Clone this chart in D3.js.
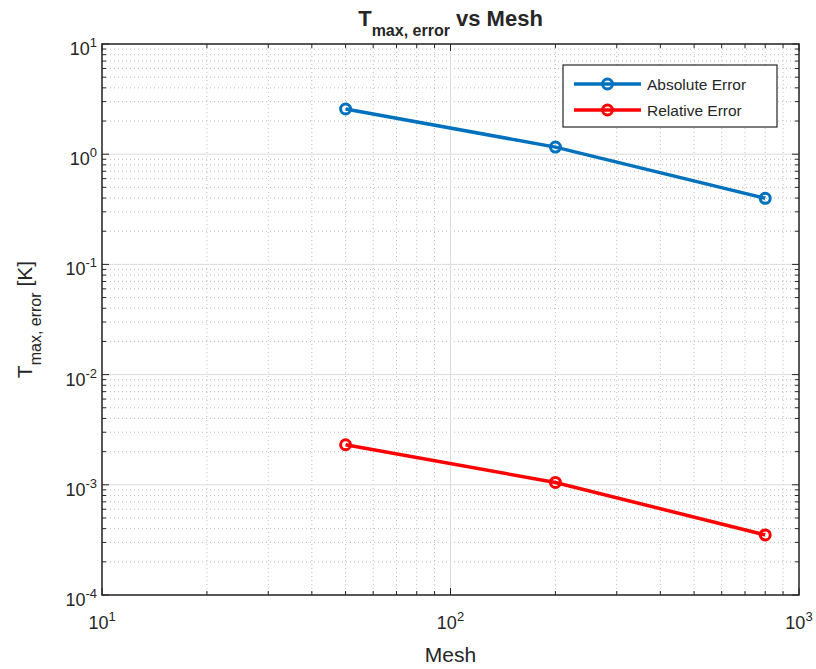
<!DOCTYPE html>
<html>
<head>
<meta charset="utf-8">
<script src="https://cdn.jsdelivr.net/npm/d3@7"></script>
<style>
  body { margin: 0; background: #fff; }
  text { font-family: "Liberation Sans", Arial, sans-serif; fill: #262626; }
</style>
</head>
<body>
<div id="chart"></div>
<script>
// values
var mesh = [50, 200, 800];
var absErr = [2.57, 1.16, 0.398];
var relErr = [0.00231, 0.00105, 0.000351];
var seriesNames = ["Absolute Error", "Relative Error"];
var seriesColors = ["#0072BD", "#FF0000"];
var xTicks = [10, 100, 1000];
var yTicks = [1e-4, 1e-3, 1e-2, 1e-1, 1, 10];

var W = 816, H = 669;
var margin = {top: 44, right: 17, bottom: 74, left: 102};
var w = W - margin.left - margin.right;
var h = H - margin.top - margin.bottom;
var axisColor = "#262626";

var svg = d3.select("#chart").append("svg")
    .attr("width", W)
    .attr("height", H);

var g = svg.append("g")
    .attr("transform", "translate(" + margin.left + "," + margin.top + ")");

var x = d3.scaleLog().domain([10, 1000]).range([0, w]);
var y = d3.scaleLog().domain([1e-4, 10]).range([h, 0]);

// minor values for grid and ticks
function minors(lo, hi) {
    var out = [];
    for (var p = lo; p < hi; p++) {
        for (var k = 2; k <= 9; k++) out.push(k * Math.pow(10, p));
    }
    return out;
}
var xMinor = minors(1, 3);
var yMinor = minors(-4, 1);

// grid
g.selectAll(".xminor").data(xMinor).enter().append("line")
    .attr("x1", d => x(d)).attr("x2", d => x(d))
    .attr("y1", 0).attr("y2", h)
    .attr("stroke", "#bdbdbd").attr("stroke-width", 1)
    .attr("stroke-dasharray", "1,3");
g.selectAll(".yminor").data(yMinor).enter().append("line")
    .attr("y1", d => y(d)).attr("y2", d => y(d))
    .attr("x1", 0).attr("x2", w)
    .attr("stroke", "#bdbdbd").attr("stroke-width", 1)
    .attr("stroke-dasharray", "1,3");
g.selectAll(".xmajor").data(xTicks).enter().append("line")
    .attr("x1", d => x(d)).attr("x2", d => x(d))
    .attr("y1", 0).attr("y2", h)
    .attr("stroke", "#dcdcdc").attr("stroke-width", 1);
g.selectAll(".ymajor").data(yTicks).enter().append("line")
    .attr("y1", d => y(d)).attr("y2", d => y(d))
    .attr("x1", 0).attr("x2", w)
    .attr("stroke", "#dcdcdc").attr("stroke-width", 1);

// ticks pointing inwards on all four sides
var majLen = 7, minLen = 4;
function ticksX(vals, len) {
    g.selectAll(null).data(vals).enter().append("line")
        .attr("x1", d => x(d)).attr("x2", d => x(d))
        .attr("y1", h).attr("y2", h - len)
        .attr("stroke", axisColor);
    g.selectAll(null).data(vals).enter().append("line")
        .attr("x1", d => x(d)).attr("x2", d => x(d))
        .attr("y1", 0).attr("y2", len)
        .attr("stroke", axisColor);
}
function ticksY(vals, len) {
    g.selectAll(null).data(vals).enter().append("line")
        .attr("y1", d => y(d)).attr("y2", d => y(d))
        .attr("x1", 0).attr("x2", len)
        .attr("stroke", axisColor);
    g.selectAll(null).data(vals).enter().append("line")
        .attr("y1", d => y(d)).attr("y2", d => y(d))
        .attr("x1", w).attr("x2", w - len)
        .attr("stroke", axisColor);
}
ticksX(xTicks, majLen);
ticksX(xMinor, minLen);
ticksY(yTicks, majLen);
ticksY(yMinor, minLen);

// box
g.append("rect")
    .attr("width", w).attr("height", h)
    .attr("fill", "none")
    .attr("stroke", axisColor).attr("stroke-width", 1.5);

// tick labels 10^n
function expOf(v) { return Math.round(Math.log10(v)); }
var xl = g.selectAll(".xlab").data(xTicks).enter().append("text")
    .attr("x", d => x(d))
    .attr("y", h + 34)
    .attr("text-anchor", "middle")
    .style("font-size", "18px");
xl.append("tspan").text("10");
xl.append("tspan").attr("dy", -8).style("font-size", "13px").text(d => expOf(d));

var yl = g.selectAll(".ylab").data(yTicks).enter().append("text")
    .attr("x", -5)
    .attr("y", d => y(d) + 11)
    .attr("text-anchor", "end")
    .style("font-size", "18px");
yl.append("tspan").text("10");
yl.append("tspan").attr("dy", -8).style("font-size", "13px").text(d => expOf(d));

// series
var series = [absErr, relErr];
var line = d3.line()
    .x((d, i) => x(mesh[i]))
    .y(d => y(d));

series.forEach(function(vals, s) {
    g.append("path")
        .datum(vals)
        .attr("d", line)
        .attr("fill", "none")
        .attr("stroke", seriesColors[s])
        .attr("stroke-width", 3.5);
    g.selectAll(null).data(vals).enter().append("circle")
        .attr("cx", (d, i) => x(mesh[i]))
        .attr("cy", d => y(d))
        .attr("r", 5)
        .attr("fill", "none")
        .attr("stroke", seriesColors[s])
        .attr("stroke-width", 3);
});

// legend
var legX = 563 - margin.left, legY = 65 - margin.top;
var leg = g.append("g").attr("transform", "translate(" + legX + "," + legY + ")");
leg.append("rect")
    .attr("width", 214).attr("height", 62)
    .attr("fill", "#fff")
    .attr("stroke", axisColor).attr("stroke-width", 1.2);
seriesNames.forEach(function(name, i) {
    var yy = 19 + i * 26;
    leg.append("line")
        .attr("x1", 11).attr("x2", 78)
        .attr("y1", yy).attr("y2", yy)
        .attr("stroke", seriesColors[i]).attr("stroke-width", 3.5);
    leg.append("circle")
        .attr("cx", 44.5).attr("cy", yy).attr("r", 5)
        .attr("fill", "none")
        .attr("stroke", seriesColors[i]).attr("stroke-width", 3);
    leg.append("text")
        .attr("x", 84).attr("y", yy + 6)
        .style("font-size", "15.5px")
        .text(name);
});

// title
var title = svg.append("text")
    .attr("x", margin.left + w / 2)
    .attr("y", 26)
    .attr("text-anchor", "middle")
    .style("font-size", "22px")
    .style("font-weight", "bold");
title.append("tspan").text("T");
title.append("tspan").attr("dy", 10).style("font-size", "16px").text("max, error");
title.append("tspan").attr("dy", -10).text(" vs Mesh");

// x label
svg.append("text")
    .attr("x", margin.left + w / 2)
    .attr("y", 662)
    .attr("text-anchor", "middle")
    .style("font-size", "21px")
    .text("Mesh");

// y label
var ylab = svg.append("text")
    .attr("transform", "translate(32," + (margin.top + h / 2) + ") rotate(-90)")
    .attr("text-anchor", "middle")
    .style("font-size", "21px");
ylab.append("tspan").text("T");
ylab.append("tspan").attr("dy", 9).style("font-size", "16px").text("max, error");
ylab.append("tspan").attr("dy", -9).text(" [K]");
</script>
</body>
</html>
